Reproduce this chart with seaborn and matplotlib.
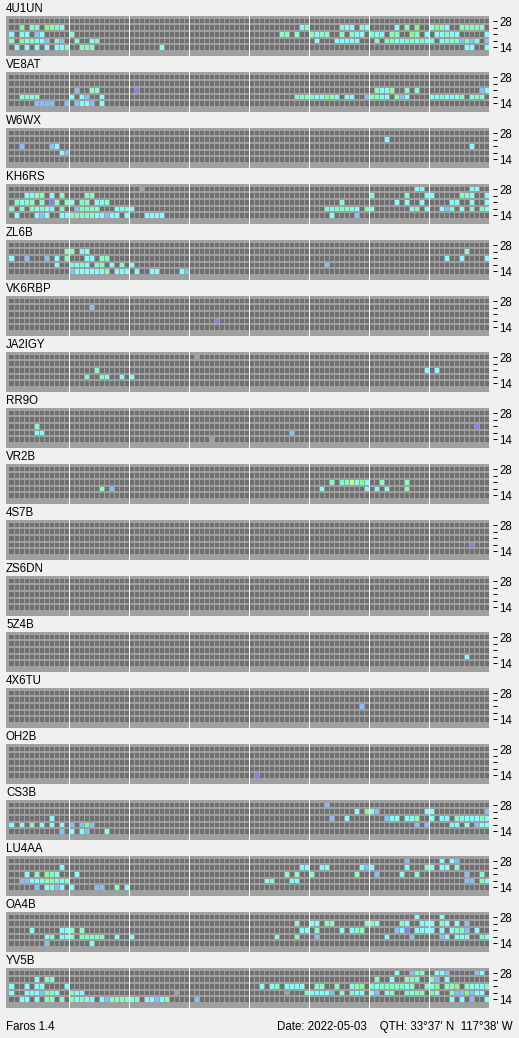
import matplotlib

matplotlib.use("Agg")
import matplotlib.pyplot as plt
import numpy as np
import seaborn as sns
from matplotlib.colors import ListedColormap

# 96 time slots per band row, bands listed top (28 MHz) to bottom (14 MHz)
SLOTS = 96
BAND_LABELS = ["28", "", "", "", "14"]

# one letter per signal level, "." = not heard
LEVEL_CODES = ".cmgbpxy"
LEVEL_COLORS = [
    "#707070",  # not heard
    "#80ffff",  # cyan
    "#80ffc0",  # mint
    "#80ff80",  # green
    "#80c0ff",  # light blue
    "#8080ff",  # blue
    "#a0a0a0",  # grey
    "#c0ff80",  # yellow green
]

# "slot+level" tokens, one string per band (28, 24, 21, 18, 14)
HEARD_4U1UN = [
    "",
    "2g 4m 5m 7g 8m 9m 10c 58c 59m 66m 67c 68c 70m 71c 77c 79m 81g 84c 85g 86m 87c 90m 91m 92m 93m 94m",
    "0c 2c 3c 5b 6c 12m 54m 55m 57m 60m 61c 62m 63m 66m 68m 69c 70c 72m 73c 74c 76m 77m 80g 81m 83c 85c 86c 87m 88c 89c 95c",
    "0m 2g 3c 4m 5c 6c 7b 9m 10b 13m 16c 17m 61c 65c 66c 67c 68c 69c 73m 75m 76m 77c 78c 79m 80m 81c 82m 83c 84m 86c 87m 88m 89m 90b 91m 92b 93c 95b",
    "1c 3c 5c 7c 9c 10c 11m 14m 15m 16m 30c 91c 92c 95c",
]
HEARD_VE8AT = [
    "",
    "",
    "13b 16m 17m 25p 73m 74c 75c 76g 79m 81m 94b 95c",
    "2m 3m 4c 5m 12c 14c 15b 18c 57m 58m 59m 60m 61c 62c 63g 64m 65c 67c 68c 71b 72m 73m 74c 75c 77m 78b 79c 84c 85c 86m 87c 88c 89c 90m 92c 93m 94m",
    "5b 6b 7b 8b 11b 13b 14c 15c 16b 18c",
]
HEARD_W6WX = ["", "75c", "2b 8b 9c 92c", "10c 11b", ""]
HEARD_KH6RS = [
    "26x 81c 82c 92c 93c",
    "3c 4c 5m 6m 8c 10m 15m 16m 72m 79m 83c 84c 90m 91m 92c 95c",
    "1m 2c 3m 4m 6m 8p 9m 11m 12c 14m 15m 17c 18c 19m 66m 77c 79c 82c 88c 89c 92c 95c",
    "0m 2m 4m 5c 6m 7c 8c 10m 13b 14m 15m 16m 17m 21c 22c 23m 24c 63m 64c 65m 66m 67m 68c 69c 71g 72c 80c 81m 83c 86c 87b 88m 90c 92m 94m 95c",
    "1c 5c 6b 7c 10c 11c 12m 13m 14m 15m 16m 17c 18c 19b 20c 21c 23c 27c 28c 29c 30c 64c 69b",
]
HEARD_ZL6B = [
    "",
    "11m 12m 14c 15c 91m",
    "0c 3b 7b 9c 11m 15c 16c 18m 19m 87c 90c 95c",
    "9c 12m 13c 14m 15c 17m 18m 20c 22m 24c 63b",
    "12b 13c 14c 15c 16c 17c 18c 19m 21c 22c 23c 25c 28c 29c 34c 35b",
]
HEARD_VK6RBP = ["", "16b", "", "41p", ""]
HEARD_JA2IGY = ["37x", "", "17m 83c 85c", "15m 18m 19c 22c 24c", ""]
HEARD_RR9O = ["", "", "5m 93p", "5c 6c 56b", "40x"]
HEARD_VR2B = [
    "",
    "",
    "64m 66m 67m 68y 69c 70g 71c 74m 79m",
    "18m 20b 62c 71c 73c 75c 79m",
    "",
]
HEARD_4S7B = ["", "", "", "92p", ""]
HEARD_ZS6DN = ["", "", "", "", ""]
HEARD_5Z4B = ["", "", "", "91c", ""]
HEARD_4X6TU = ["", "", "70b", "", ""]
HEARD_OH2B = ["", "", "", "", "49p"]
HEARD_CS3B = [
    "63b",
    "69c 71g 72c 73b 83c 84c 95b",
    "8c 64b 67c 75b 76c 77c 79c 80c 81m 84c 86c 87c 89m 90c 91c 92c 93c 94m 95c",
    "0c 2c 4m 6c 8c 10c 12b 14b 15g 16b 81b 83b 88c 89c 91c 93b 94c 95c",
    "10b 12c 14c 15b 19c",
]
HEARD_LU4AA = [
    "79b 86c 88c 89b",
    "10c 58c 59c 62c 63c 70c 71b 72c 79c 83m 84c 86c 87c 89m",
    "3c 5m 7g 8m 9c 13c 55m 57m 60m 69m 73b 78c 81m 91b 94m",
    "2b 3b 4c 5c 6c 7m 8m 9m 10c 11m 51c 52m 56c 57c 91b 92b 94m 95c",
    "5b 7c 8m 9b 10c 12c 17b 18b 21m 23c",
]
HEARD_OA4B = [
    "81c 86c",
    "57m 60c 61c 63m 64m 71m 72m 73c 78m 79c 82c 83c 84c 86m 87c 89c 91b",
    "4c 10c 11c 12m 14m 58c 59c 61m 66c 68c 69m 70m 77b 78c 79p 81c 82c 83c 84c 86c 88c 89m 90m 91b 93c",
    "7c 8m 10c 11c 12m 14m 15m 16m 17m 18m 21c 24c 53m 57m 61b 75c 80b 86b 87c 89c 90c 91c 94m 95c",
    "7b 16c",
]
HEARD_YV5B = [
    "77c 80b 81m 82m 85c 86c 87b 93b 94c",
    "5c 7m 8m 73m 76c 79m 80m 81m 84m 85b 87c",
    "0c 3c 5c 6c 11c 50c 52c 53m 55c 56c 57c 58c 61m 62m 65m 68c 69m 70g 72m 73c 74m 75m 76m 77m 78m 79c 80m 83m 84c 85g 87m 88m 89g 91m 92c 93c 94c 95m",
    "0c 3c 4c 5c 6b 7m 8m 9c 12m 13c 14c 33x 55x 59m 60c 61c 62c 63c 64b 66m 68m 69c 70c 72c 73b 75c 76m 79m 80c 81m 82m 84g 85c 88m 89b 90b 91g 92b 93c 94c",
    "2c 3c 5c 7m 8m 10m 12m 13c 14m 15c 16c 18c 19b 20m 21m 22m 23m 24c 25m 27c 28c 29b 30c 31m 37b 88c 90c 92b 95c",
]

BEACONS = [
    ("4U1UN", HEARD_4U1UN),
    ("VE8AT", HEARD_VE8AT),
    ("W6WX", HEARD_W6WX),
    ("KH6RS", HEARD_KH6RS),
    ("ZL6B", HEARD_ZL6B),
    ("VK6RBP", HEARD_VK6RBP),
    ("JA2IGY", HEARD_JA2IGY),
    ("RR9O", HEARD_RR9O),
    ("VR2B", HEARD_VR2B),
    ("4S7B", HEARD_4S7B),
    ("ZS6DN", HEARD_ZS6DN),
    ("5Z4B", HEARD_5Z4B),
    ("4X6TU", HEARD_4X6TU),
    ("OH2B", HEARD_OH2B),
    ("CS3B", HEARD_CS3B),
    ("LU4AA", HEARD_LU4AA),
    ("OA4B", HEARD_OA4B),
    ("YV5B", HEARD_YV5B),
]

FOOTER_LEFT = "Faros 1.4"
FOOTER_RIGHT = "Date: 2022-05-03    QTH: 33°37' N  117°38' W"


def to_matrix(rows):
    grid = np.zeros((len(rows), SLOTS), dtype=int)
    for band, spec in enumerate(rows):
        for token in spec.split():
            grid[band, int(token[:-1])] = LEVEL_CODES.index(token[-1])
    return grid


W, H = 519, 1038
PX = 0.72  # one pixel in points at dpi 100
BG = "#f0f0f0"
FRAME = "#a0a0a0"

plt.rcParams["font.family"] = ["Liberation Sans", "DejaVu Sans"]
cmap = ListedColormap(LEVEL_COLORS)

fig = plt.figure(figsize=(W / 100, H / 100), dpi=100, facecolor=BG)

for i, (name, rows) in enumerate(BEACONS):
    top = 16 + 56 * i
    ax = fig.add_axes([6 / W, 1 - (top + 40) / H, 483 / W, 40 / H])
    sns.heatmap(
        to_matrix(rows),
        cmap=cmap,
        vmin=-0.5,
        vmax=len(LEVEL_COLORS) - 0.5,
        cbar=False,
        xticklabels=False,
        yticklabels=False,
        linewidths=0,
        ax=ax,
    )
    ax.set_facecolor(FRAME)
    ax.set_xlim(-0.5, 96.1)
    ax.set_ylim(5.8, -0.26)
    ax.vlines(np.arange(1, SLOTS), 0, 5, colors=FRAME, linewidth=PX)
    ax.hlines(np.arange(0, 6), 0, SLOTS, colors=FRAME, linewidth=2 * PX)
    for hour in range(12, SLOTS, 12):
        ax.axvline(hour, color="white", linewidth=PX)

    for side in ("top", "bottom", "left"):
        ax.spines[side].set_visible(False)
    ax.spines["right"].set_position(("outward", 4 * PX))
    ax.spines["right"].set_visible(False)
    ax.yaxis.set_ticks_position("right")
    ax.set_yticks(np.arange(5) + 0.5)
    ax.set_yticklabels(BAND_LABELS)
    ax.tick_params(
        axis="y", right=True, left=False, labelright=True, labelleft=False,
        length=4 * PX, width=PX, pad=2.5 * PX, labelsize=8.3, colors="black",
    )
    ax.tick_params(axis="x", bottom=False, labelbottom=False)

    fig.text(6 / W, 1 - (top - 3.5) / H, name, fontsize=8.3, va="baseline", ha="left")

fig.text(6 / W, 1 - 1030 / H, FOOTER_LEFT, fontsize=8.3, va="baseline", ha="left")
fig.text(513 / W, 1 - 1030 / H, FOOTER_RIGHT, fontsize=8.3, va="baseline", ha="right")

fig.savefig("out.png", dpi=100, facecolor=BG)
plt.close(fig)
